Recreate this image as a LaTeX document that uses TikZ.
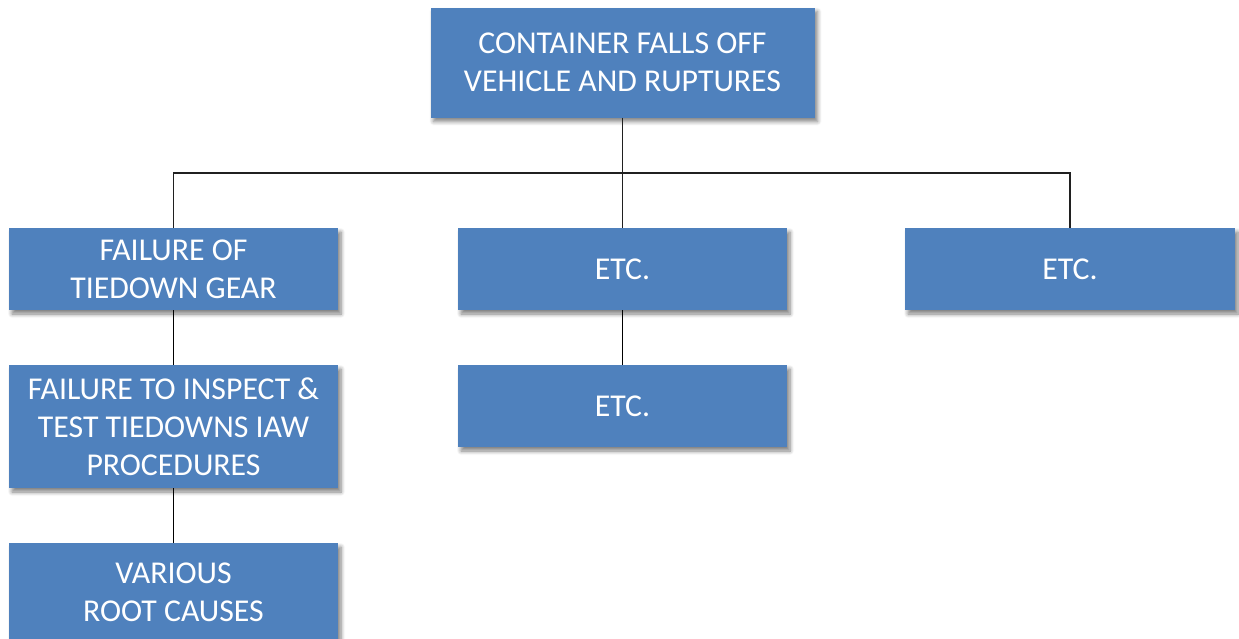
\documentclass[tikz,border=0pt]{standalone}
\usepackage{fontspec}
\setmainfont{Carlito}
\usetikzlibrary{shadows.blur}
\definecolor{boxblue}{HTML}{4F81BD}
\definecolor{linegray}{HTML}{202020}
\tikzset{
  box/.style={rectangle, fill=boxblue, draw=none, inner sep=0pt, text=white,
    align=center, font=\fontsize{31.8}{38}\selectfont,
    blur shadow={shadow xshift=3pt, shadow yshift=-4pt, shadow blur radius=4pt, shadow blur steps=6, shadow opacity=50}},
  conn/.style={draw=linegray, line width=1.1pt},
  connb/.style={draw=black, line width=1.6pt}
}
\begin{document}
\begin{tikzpicture}[x=1pt, y=-1pt]
\useasboundingbox (0,0) rectangle (1239,638);
\node[box, minimum width=384pt, minimum height=110pt] (top) at (622.5,62.5) {CONTAINER FALLS OFF\\VEHICLE AND RUPTURES};
\node[box, minimum width=329pt, minimum height=82pt] (ra) at (173.5,269) {FAILURE OF\\TIEDOWN GEAR};
\node[box, minimum width=329pt, minimum height=82pt] (rb) at (622.5,269) {ETC.};
\node[box, minimum width=330pt, minimum height=82pt] (rc) at (1070,269) {ETC.};
\node[box, minimum width=329pt, minimum height=123pt] (sa) at (173.5,426.5) {FAILURE TO INSPECT \&\\TEST TIEDOWNS IAW\\PROCEDURES};
\node[box, minimum width=329pt, minimum height=82pt] (sb) at (622.5,406) {ETC.};
\node[box, minimum width=329pt, minimum height=98pt] (ta) at (173.5,592) {VARIOUS\\ROOT CAUSES};
\coordinate (busL) at (173.5,173);
\coordinate (busR) at (1070,173);
\draw[conn] (top.south) -- (rb.north);
\draw[conn] (ra.north) -- (busL) -- (busR) -- (rc.north);
\draw[connb] (ra.south) -- (sa.north);
\draw[connb] (rb.south) -- (sb.north);
\draw[connb] (sa.south) -- (ta.north);
\end{tikzpicture}
\end{document}
